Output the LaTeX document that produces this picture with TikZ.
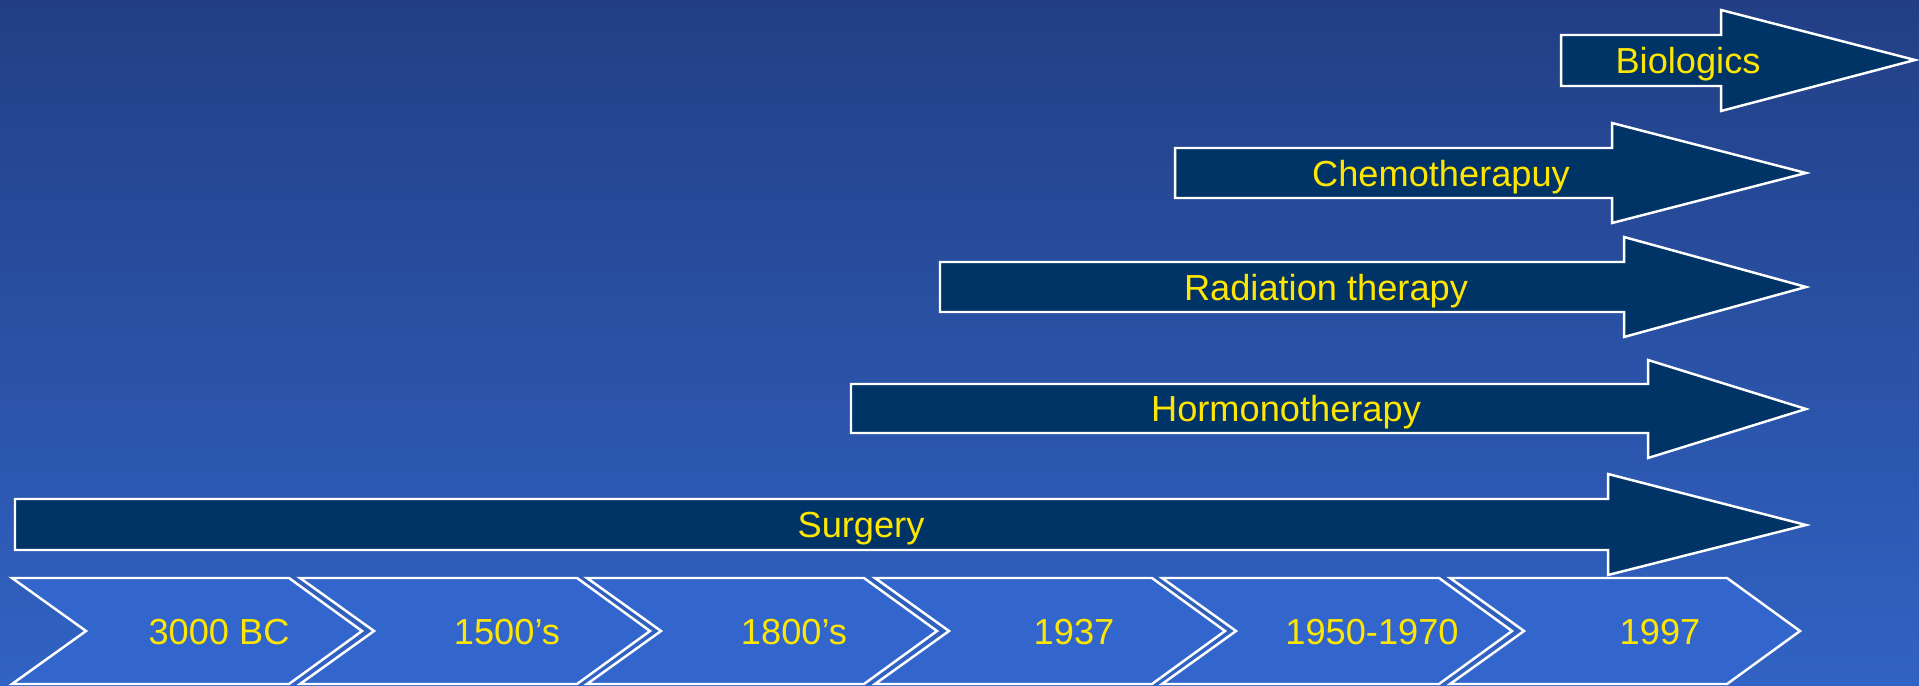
\documentclass[tikz,border=0pt]{standalone}
\usepackage{fontspec}
\setmainfont{Liberation Sans}
\usetikzlibrary{positioning}
\definecolor{clrbgtop}{HTML}{223F85}
\definecolor{clrbgbottom}{HTML}{3163C4}
\definecolor{clrperiod}{HTML}{3366CC}
\definecolor{clrtherapy}{HTML}{003366}
\definecolor{clrborder}{HTML}{FFFFFF}
\definecolor{clrtext}{HTML}{FFE600}
\begin{document}
\begin{tikzpicture}[
    x=0.01cm, y=-0.01cm,
    every node/.style={font=\fontsize{10.3}{12}\selectfont, text=clrtext, inner sep=0pt, anchor=base},
    therapy/.style={draw=clrborder, fill=clrtherapy, line width=0.7pt, line join=miter},
    period/.style={draw=clrborder, fill=clrperiod, line width=0.7pt, line join=miter},
]
\useasboundingbox (0,0) rectangle (1919,685);
\shade[top color=clrbgtop, bottom color=clrbgbottom] (0,0) rectangle (1919,685);
\draw[therapy] (1561,35) -- (1721,35) -- (1721,10) -- (1915,60) -- (1721,111) -- (1721,86) -- (1561,86) -- cycle;
\draw[therapy] (1175,148) -- (1612,148) -- (1612,123) -- (1806,173) -- (1612,223) -- (1612,198) -- (1175,198) -- cycle;
\draw[therapy] (940,262) -- (1624,262) -- (1624,237) -- (1806,287) -- (1624,337) -- (1624,312) -- (940,312) -- cycle;
\draw[therapy] (851,384) -- (1648,384) -- (1648,360) -- (1806,409) -- (1648,458) -- (1648,433) -- (851,433) -- cycle;
\draw[therapy] (15,499) -- (1608,499) -- (1608,474) -- (1806,525) -- (1608,575) -- (1608,550) -- (15,550) -- cycle;
\node (n_1) at (1688,73.5) {Biologics};
\node (n_2) at (1441,186) {Chemotherapuy};
\node (n_3) at (1326,300) {Radiation therapy};
\node (n_4) at (1286,421.5) {Hormonotherapy};
\node (n_5) at (861,537.5) {Surgery};
\draw[period] (12,578) -- (289,578) -- (362,631) -- (289,684) -- (12,684) -- (86,631) -- cycle;
\draw[period] (300,578) -- (577,578) -- (650,631) -- (577,684) -- (300,684) -- (374,631) -- cycle;
\draw[period] (587,578) -- (864,578) -- (937,631) -- (864,684) -- (587,684) -- (661,631) -- cycle;
\draw[period] (875,578) -- (1152,578) -- (1225,631) -- (1152,684) -- (875,684) -- (949,631) -- cycle;
\draw[period] (1162,578) -- (1439,578) -- (1512,631) -- (1439,684) -- (1162,684) -- (1236,631) -- cycle;
\draw[period] (1450,578) -- (1727,578) -- (1800,631) -- (1727,684) -- (1450,684) -- (1524,631) -- cycle;
\node (n_6) at (219,644) {3000 BC};
\node (n_7) at (507,644) {1500’s};
\node (n_8) at (794,644) {1800’s};
\node (n_9) at (1074,644) {1937};
\node (n_10) at (1372,644) {1950-1970};
\node (n_11) at (1660,644) {1997};
\end{tikzpicture}
\end{document}
